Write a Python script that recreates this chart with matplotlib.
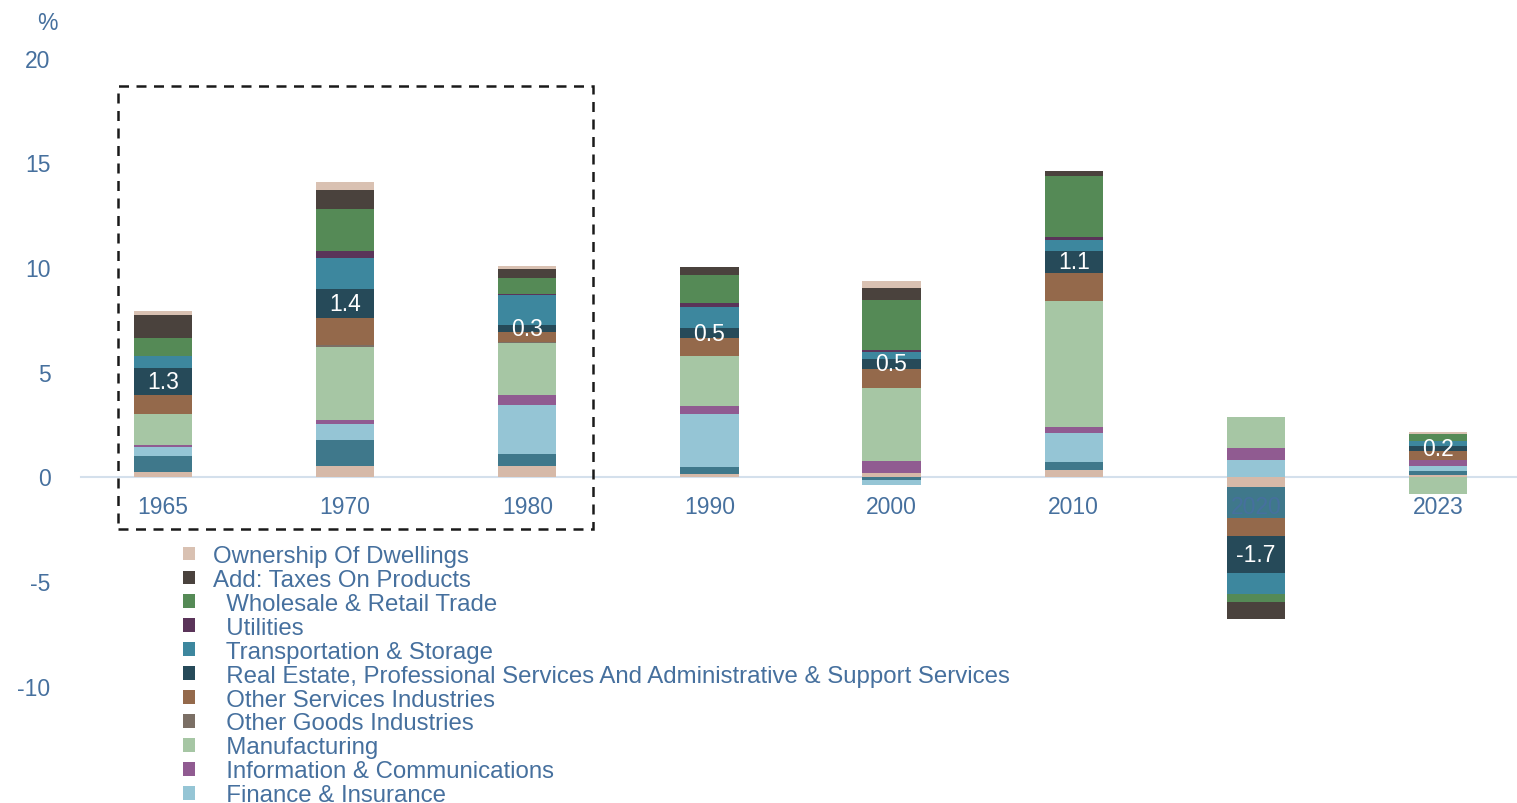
import numpy as np
import matplotlib
matplotlib.use("Agg")
import matplotlib.pyplot as plt
from matplotlib.patches import Rectangle, Patch

plt.rcParams['font.family'] = ['Liberation Sans', 'DejaVu Sans']
plt.rcParams['axes.unicode_minus'] = False

years = ['1965', '1970', '1980', '1990', '2000', '2010', '2020', '2023']

# series, bottom of stack first
accommodation = [0.20, 0.50, 0.50, 0.10, 0.15, 0.30, -0.50, 0.08]
construction = [0.80, 1.24, 0.59, 0.37, -0.15, 0.37, -1.47, 0.16]
finance = [0.40, 0.75, 2.32, 2.53, -0.25, 1.40, 0.79, 0.24]
information = [0.11, 0.20, 0.46, 0.36, 0.57, 0.30, 0.56, 0.32]
manufacturing = [1.45, 3.48, 2.52, 2.39, 3.50, 6.01, 1.51, -0.85]
other_goods = [0.04, 0.10, 0.02, 0.01, 0.01, 0.01, 0.00, 0.01]
other_services = [0.87, 1.31, 0.48, 0.84, 0.91, 1.31, -0.89, 0.40]
real_estate = [1.32, 1.38, 0.32, 0.48, 0.48, 1.08, -1.73, 0.24]
transport = [0.55, 1.45, 1.43, 1.02, 0.32, 0.51, -1.00, 0.24]
utilities = [0.02, 0.35, 0.08, 0.18, 0.08, 0.13, -0.02, 0.02]
wholesale = [0.83, 2.02, 0.76, 1.34, 2.42, 2.91, -0.40, 0.32]
taxes = [1.13, 0.89, 0.43, 0.37, 0.55, 0.24, -0.80, 0.02]
ownership = [0.16, 0.40, 0.13, 0.00, 0.32, 0.00, 0.00, 0.08]

series = [
    ('Accommodation & Food Services', accommodation, '#d6b9a8'),
    ('Construction', construction, '#3f788b'),
    ('  Finance & Insurance', finance, '#95c5d5'),
    ('  Information & Communications', information, '#905b91'),
    ('  Manufacturing', manufacturing, '#a6c6a4'),
    ('  Other Goods Industries', other_goods, '#7b6f65'),
    ('  Other Services Industries', other_services, '#94694b'),
    ('  Real Estate, Professional Services And Administrative & Support Services', real_estate, '#264a59'),
    ('  Transportation & Storage', transport, '#3d879e'),
    ('  Utilities', utilities, '#5a3459'),
    ('  Wholesale & Retail Trade', wholesale, '#558a56'),
    ('Add: Taxes On Products', taxes, '#4a423d'),
    ('Ownership Of Dwellings', ownership, '#d9c1b2'),
]

W, H = 1517, 804
fig = plt.figure(figsize=(W / 100, H / 100), dpi=100)
ymin, ymax = -15, 21
zero_px = 477.5
ppu = 20.95
top_px = zero_px - ymax * ppu
bot_px = zero_px - ymin * ppu
xmin, xmax = -0.45, 7.45
c0, step = 163, 182.14
left_px = c0 + xmin * step
right_px = c0 + xmax * step
ax = fig.add_axes([left_px / W, 1 - bot_px / H, (right_px - left_px) / W, (bot_px - top_px) / H])

x = np.arange(len(years))
pos_base = np.zeros(len(years))
neg_base = np.zeros(len(years))
handles = []
re_container = None
for name, vals, col in series:
    v = np.array(vals, dtype=float)
    bottom = np.where(v >= 0, pos_base, neg_base)
    cont = ax.bar(x, v, width=0.32, bottom=bottom, color=col, linewidth=0, zorder=2)
    pos_base = pos_base + np.where(v > 0, v, 0)
    neg_base = neg_base + np.where(v < 0, v, 0)
    handles.append(Patch(facecolor=col, label=name))
    if vals is real_estate:
        re_container = cont

ax.bar_label(re_container, labels=[f'{v:.1f}' for v in real_estate], label_type='center',
             color='white', fontsize=16.5, zorder=5)

ax.set_axisbelow(False)
ax.set_xlim(xmin, xmax)
ax.set_ylim(ymin, ymax)
ax.set_yticks([-10, -5, 0, 5, 10, 15, 20])
txtcol = '#46709e'
ax.tick_params(axis='y', length=0, pad=22, labelsize=16.5, labelcolor=txtcol)
ax.set_xticks(x)
ax.set_xticklabels(years)
ax.tick_params(axis='x', length=0, pad=13, labelsize=16.5, labelcolor=txtcol)
for s in ['top', 'right', 'left']:
    ax.spines[s].set_visible(False)
ax.spines['bottom'].set_position(('data', 0))
ax.spines['bottom'].set_color('#d4e0ec')
ax.spines['bottom'].set_linewidth(1.5)
ax.spines['bottom'].set_zorder(1)

fig.text(47 / W, 1 - 23 / H, '%', color=txtcol, fontsize=16.5, ha='center', va='center')

# dashed highlight box
x0 = (118 - c0) / step
x1 = (593 - c0) / step
y0 = (zero_px - 530) / ppu
y1 = (zero_px - 87) / ppu
ax.add_patch(Rectangle((x0, y0), x1 - x0, y1 - y0, fill=False, edgecolor='#1a1a1a',
                       linewidth=1.8, linestyle=(0, (4, 3)), clip_on=False, zorder=7))

leg = fig.legend(handles=handles[::-1], loc='upper left',
                 bbox_to_anchor=(183 / W, 1 - 546 / H), bbox_transform=fig.transFigure,
                 frameon=False, fontsize=17.3, labelcolor=txtcol, borderpad=0, borderaxespad=0,
                 handlelength=0.5, handleheight=0.5, handletextpad=0.75, labelspacing=0.08)

fig.savefig('out.png', dpi=100)
